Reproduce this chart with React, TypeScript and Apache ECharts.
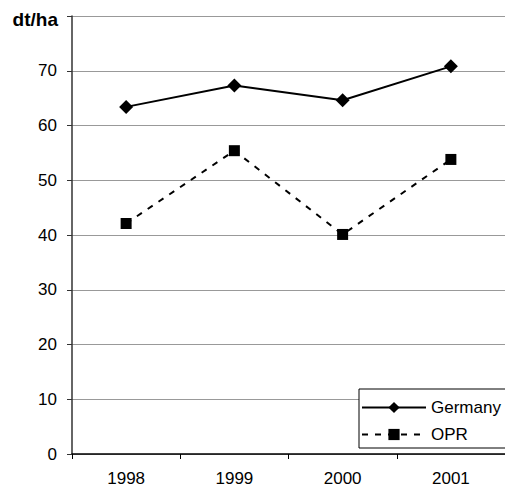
import React, { useEffect, useRef } from "react";
import * as echarts from "echarts";

const years = ["1998", "1999", "2000", "2001"];
const germany = [63.4, 67.3, 64.6, 70.8];
const opr = [42.1, 55.4, 40.1, 53.8];
const unitLabel = "dt/ha";

export default function App() {
  const ref = useRef<HTMLDivElement>(null);
  useEffect(() => {
    if (!ref.current) return;
    const chart = echarts.init(ref.current, null, { renderer: "svg" });
    const font = "Liberation Sans, Arial, sans-serif";
    chart.setOption({
      animation: false,
      backgroundColor: "#ffffff",
      textStyle: { fontFamily: font },
      grid: { left: 72, top: 16, width: 436, height: 439, containLabel: false },
      graphic: [
        {
          type: "text",
          right: 447,
          top: 10,
          style: { text: unitLabel, font: `bold 19px ${font}`, fill: "#000" },
        },
      ],
      legend: {
        orient: "vertical",
        left: 359,
        top: 389,
        width: 200,
        backgroundColor: "#ffffff",
        borderColor: "#000",
        borderWidth: 1,
        padding: [10, 60, 5, 2],
        itemGap: 10,
        itemWidth: 64,
        itemHeight: 14,
        textStyle: { fontSize: 17, color: "#000", fontFamily: font },
        data: ["Germany", "OPR"],
      },
      xAxis: {
        type: "category",
        data: years,
        boundaryGap: true,
        axisLine: { lineStyle: { color: "#000", width: 1.5 } },
        axisTick: { show: true, length: 5, lineStyle: { color: "#000" } },
        axisLabel: { fontSize: 17, color: "#000", margin: 16, fontFamily: font },
        splitLine: { show: false },
      },
      yAxis: {
        type: "value",
        min: 0,
        max: 80,
        interval: 10,
        axisLine: { show: true, lineStyle: { color: "#333", width: 1.5 } },
        axisTick: { show: true, length: 5, lineStyle: { color: "#333" } },
        axisLabel: {
          fontSize: 17,
          color: "#000",
          margin: 15,
          fontFamily: font,
          formatter: (v: number) => (v === 80 ? "" : String(v)),
        },
        splitLine: { show: true, lineStyle: { color: "#999", width: 1 } },
      },
      series: [
        {
          name: "Germany",
          type: "line",
          data: germany,
          symbol: "diamond",
          symbolSize: 14,
          itemStyle: { color: "#000" },
          lineStyle: { color: "#000", width: 2 },
        },
        {
          name: "OPR",
          type: "line",
          data: opr,
          symbol: "rect",
          symbolSize: 11,
          itemStyle: { color: "#000" },
          lineStyle: { color: "#000", width: 2, type: [6, 7] },
        },
      ],
    });
    return () => chart.dispose();
  }, []);
  return (
    <div
      ref={ref}
      style={{ position: "fixed", left: 0, top: 0, width: 505, height: 487 }}
    />
  );
}
